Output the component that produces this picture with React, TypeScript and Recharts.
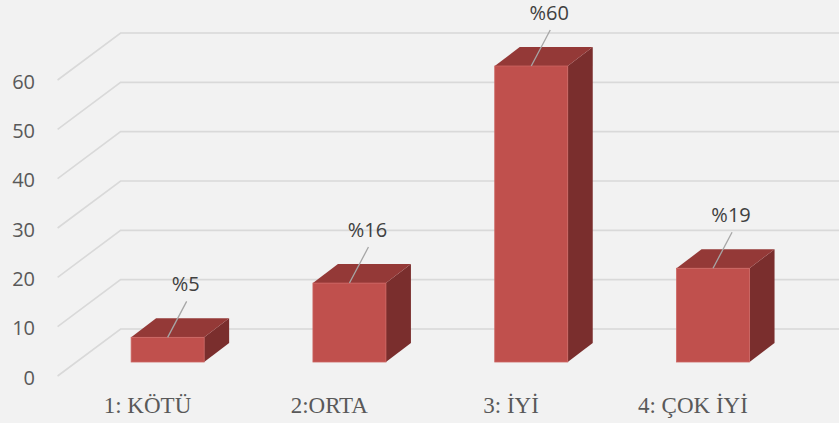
import { Bar, BarChart, CartesianGrid, LabelList, XAxis, YAxis } from 'recharts'

const categories = ['1: KÖTÜ', '2:ORTA', '3: İYİ', '4: ÇOK İYİ']
const percents = [5, 16, 60, 19]
const yTicks = [0, 10, 20, 30, 40, 50, 60]
const minorTicks = [
  0, 2, 4, 6, 8, 10, 12, 14, 16, 18, 20, 22, 24, 26, 28, 30, 32, 34, 36, 38, 40, 42, 44, 46, 48, 50, 52, 54,
  56, 58, 60,
]

const data = categories.map((name, i) => ({ name, value: percents[i] }))

// 3d look: floor front edge sits left/below the bar plane, back wall right/above
const FRONT_DX = 19
const FRONT_DY = 14
const BACK_DX = 44
const BACK_DY = 33
const BAR_DX = 25
const BAR_DY = 19

function wallLine(color: string, width: number) {
  return (p: any) => {
    const { x1, x2, y1 } = p
    const d = `M${x1 - FRONT_DX},${y1 + FRONT_DY} L${x1 + BACK_DX},${y1 - BACK_DY} L${x2 + BACK_DX + 20},${y1 - BACK_DY}`
    return <path key={p.key ?? `g-${y1}`} d={d} fill="none" stroke={color} strokeWidth={width} />
  }
}

function Box3D(p: any) {
  const { x, y, width: w, height: h } = p
  if (w == null || h == null) return null
  const top = `${x},${y} ${x + BAR_DX},${y - BAR_DY} ${x + w + BAR_DX},${y - BAR_DY} ${x + w},${y}`
  const side = `${x + w},${y} ${x + w + BAR_DX},${y - BAR_DY} ${x + w + BAR_DX},${y + h - BAR_DY} ${x + w},${y + h}`
  return (
    <g>
      <polygon points={side} fill="#7a2e2d" />
      <polygon points={top} fill="#943937" />
      <rect x={x} y={y} width={w} height={h} fill="#c0504d" stroke="#cc6461" strokeWidth={0.8} />
    </g>
  )
}

function PctLabel(p: any) {
  const { x, y, width, value } = p
  const cx = x + width / 2
  return (
    <g>
      <line x1={cx} y1={y} x2={cx + 19} y2={y - 36} stroke="#a6a6a6" strokeWidth={1.3} />
      <text
        x={cx + 18}
        y={y - 54}
        textAnchor="middle"
        dominantBaseline="central"
        style={{ fontFamily: '"Open Sans", sans-serif', fontSize: 20, fill: '#404040' }}
      >
        %{value}
      </text>
    </g>
  )
}

function YTick(p: any) {
  const { y, payload } = p
  return (
    <text
      x={35}
      y={y + FRONT_DY + 1}
      textAnchor="end"
      dominantBaseline="central"
      style={{ fontFamily: '"Open Sans", sans-serif', fontSize: 20, fill: '#595959' }}
    >
      {payload.value}
    </text>
  )
}

function XTick(p: any) {
  const { x, payload } = p
  return (
    <text
      x={x - 20}
      y={405}
      textAnchor="middle"
      dominantBaseline="central"
      style={{ fontFamily: '"Liberation Serif", serif', fontSize: 23, fill: '#595959' }}
    >
      {payload.value}
    </text>
  )
}

export default function App() {
  return (
    <div style={{ position: 'fixed', left: 0, top: 0, width: 839, height: 423, background: '#f2f2f2' }}>
      <BarChart
        width={839}
        height={423}
        data={data}
        margin={{ top: 66, right: 35.2, left: 16.6, bottom: 21 }}
        barCategoryGap="30%"
      >
        <XAxis dataKey="name" height={40} axisLine={false} tickLine={false} tick={<XTick />} interval={0} />
        <YAxis
          domain={[0, 60]}
          ticks={yTicks}
          width={60}
          axisLine={false}
          tickLine={false}
          tick={<YTick />}
        />
        <YAxis yAxisId="minor" domain={[0, 60]} ticks={minorTicks} hide />
        <CartesianGrid yAxisId="minor" vertical={false} horizontal={wallLine('#ebebeb', 1)} />
        <CartesianGrid vertical={false} horizontal={wallLine('#d9d9d9', 1.6)} />
        <Bar dataKey="value" shape={<Box3D />} isAnimationActive={false}>
          <LabelList dataKey="value" content={<PctLabel />} />
        </Bar>
      </BarChart>
    </div>
  )
}
